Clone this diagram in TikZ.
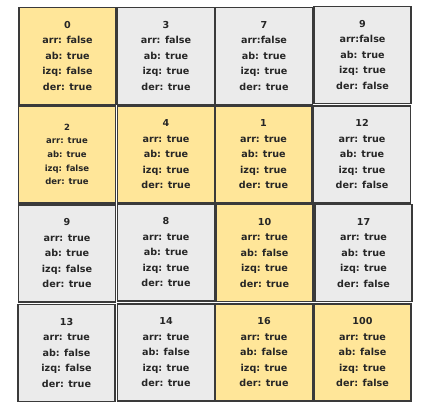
\documentclass[tikz,border=0pt]{standalone}
\usepackage{fontspec}
\setmainfont{DejaVu Sans}
\definecolor{cellyellow}{HTML}{FFE699}
\definecolor{cellgray}{HTML}{EBEBEB}
\definecolor{cellborder}{HTML}{3A3A3A}
\definecolor{celltext}{HTML}{262626}
\tikzset{
  cell/.style={draw=cellborder, line width=1.4pt, minimum width=97pt, minimum height=97pt,
    inner sep=0pt, align=center, text=celltext,
    font=\fontsize{9.6}{15.5}\selectfont\bfseries},
  yel/.style={cell, fill=cellyellow},
  gry/.style={cell, fill=cellgray},
  small/.style={font=\fontsize{8.5}{13.7}\selectfont\bfseries}
}
\begin{document}
\begin{tikzpicture}[x=1pt,y=-1pt]
\useasboundingbox (0,0) rectangle (444,419);
% row 1
\node[yel] (c11) at (67.5,56) {0\\arr: false\\ab: true\\izq: false\\der: true};
\node[gry] (c12) at (166,56) {3\\arr: false\\ab: true\\izq: true\\der: true};
\node[gry] (c13) at (264,56) {7\\arr:false\\ab: true\\izq: true\\der: true};
\node[gry] (c14) at (362.5,55) {9\\arr:false\\ab: true\\izq: true\\der: false};
% row 2
\node[yel,small] (c21) at (67,154.5) {2\\arr: true\\ab: true\\izq: false\\der: true};
\node[yel] (c22) at (166,154.5) {4\\arr: true\\ab: true\\izq: true\\der: true};
\node[yel] (c23) at (263.5,154.5) {1\\arr: true\\ab: true\\izq: true\\der: true};
\node[gry] (c24) at (362,154.5) {12\\arr: true\\ab: true\\izq: true\\der: false};
% row 3
\node[gry] (c31) at (67,253.5) {9\\arr: true\\ab: true\\izq: false\\der: true};
\node[gry] (c32) at (166,252.5) {8\\arr: true\\ab: true\\izq: true\\der: true};
\node[yel] (c33) at (264.5,253) {10\\arr: true\\ab: false\\izq: true\\der: true};
\node[gry] (c34) at (363.5,253) {17\\arr: true\\ab: true\\izq: true\\der: false};
% row 4
\node[gry] (c41) at (66.5,353) {13\\arr: true\\ab: false\\izq: false\\der: true};
\node[gry] (c42) at (166,352.5) {14\\arr: true\\ab: false\\izq: true\\der: true};
\node[yel] (c43) at (264,352.5) {16\\arr: true\\ab: false\\izq: true\\der: true};
\node[yel] (c44) at (362.5,352.5) {100\\arr: true\\ab: false\\izq: true\\der: false};
\end{tikzpicture}
\end{document}
